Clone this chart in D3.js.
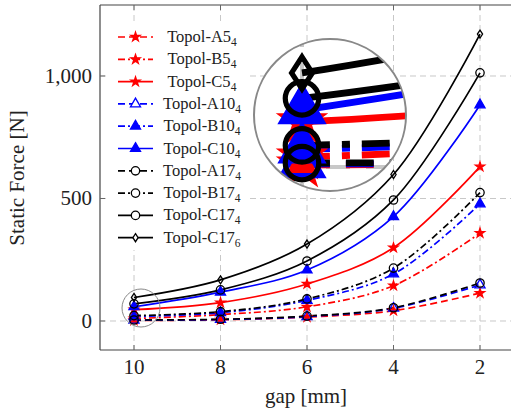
<!DOCTYPE html>
<html>
<head>
<meta charset="utf-8">
<script src="https://cdn.jsdelivr.net/npm/d3@7"></script>
<style>
  body { margin: 0; background: #fff; }
  svg { font-family: "Liberation Serif", "DejaVu Serif", serif; }
</style>
</head>
<body>
<script>
// gap values on the x axis
var gaps = [10, 8, 6, 4, 2];
var xTicks = [10, 8, 6, 4, 2];
var yTicks = [0, 500, 1000];

// static force per series [N]
var topolA5 = [2, 5, 16, 42, 114];
var topolB5 = [10, 26, 58, 144, 359];
var topolC5 = [46, 75, 151, 299, 630];
var topolA10 = [3, 6, 18, 52, 147];
var topolB10 = [18, 34, 84, 192, 478];
var topolC10 = [58, 118, 208, 426, 882];
var topolA17 = [4, 7, 20, 54, 155];
var topolB17 = [22, 38, 90, 216, 524];
var topolC17 = [70, 127, 245, 494, 1013];
var topolC17b = [96, 168, 314, 598, 1171];

var series = [
  {name: "Topol-A5", sub: "4", values: topolA5, color: "#ff0000", dash: "7,4", mark: "star", fill: true},
  {name: "Topol-B5", sub: "4", values: topolB5, color: "#ff0000", dash: "7,3,2,3", mark: "star", fill: true},
  {name: "Topol-C5", sub: "4", values: topolC5, color: "#ff0000", dash: null, mark: "star", fill: true},
  {name: "Topol-A10", sub: "4", values: topolA10, color: "#0000ff", dash: "7,4", mark: "triangle", fill: false},
  {name: "Topol-B10", sub: "4", values: topolB10, color: "#0000ff", dash: "7,3,2,3", mark: "triangle", fill: true},
  {name: "Topol-C10", sub: "4", values: topolC10, color: "#0000ff", dash: null, mark: "triangle", fill: true},
  {name: "Topol-A17", sub: "4", values: topolA17, color: "#000000", dash: "7,4", mark: "circle", fill: false},
  {name: "Topol-B17", sub: "4", values: topolB17, color: "#000000", dash: "7,3,2,3", mark: "circle", fill: false},
  {name: "Topol-C17", sub: "4", values: topolC17, color: "#000000", dash: null, mark: "circle", fill: false},
  {name: "Topol-C17", sub: "6", values: topolC17b, color: "#000000", dash: null, mark: "diamond", fill: false}
];

var width = 511, height = 412;
var margin = {top: 5, left: 100, bottom: 350};

var x = d3.scaleLinear().domain([10.8, 1.2]).range([99.4, 514.6]);
var y = d3.scaleLinear().domain([-118.4, 1289.8]).range([margin.bottom, margin.top]);

var svg = d3.select("body").append("svg")
    .attr("width", width)
    .attr("height", height);

var defs = svg.append("defs");

// everything that the magnifier copies
var plot = defs.append("g").attr("id", "plotContent");

// grid
plot.selectAll(".gx").data(xTicks).enter().append("line")
    .attr("x1", function(d) { return x(d); })
    .attr("x2", function(d) { return x(d); })
    .attr("y1", margin.top).attr("y2", margin.bottom)
    .attr("stroke", "#c8c8c8").attr("stroke-dasharray", "6,4");
plot.selectAll(".gy").data(yTicks).enter().append("line")
    .attr("y1", function(d) { return y(d); })
    .attr("y2", function(d) { return y(d); })
    .attr("x1", margin.left).attr("x2", width)
    .attr("stroke", "#c8c8c8").attr("stroke-dasharray", "6,4");

var line = d3.line()
    .x(function(d, i) { return x(gaps[i]); })
    .y(function(d) { return y(d); })
    .curve(d3.curveCatmullRom);

function symbolFor(s) {
  if (s.mark == "star") return d3.symbol().type(d3.symbolStar).size(26)();
  if (s.mark == "triangle") return d3.symbol().type(d3.symbolTriangle).size(44)();
  if (s.mark == "circle") return d3.symbol().type(d3.symbolCircle).size(55)();
  return "M0,-4L2.6,0L0,4L-2.6,0Z";
}

series.forEach(function(s) {
  plot.append("path")
      .attr("d", line(s.values))
      .attr("fill", "none")
      .attr("stroke", s.color)
      .attr("stroke-width", 1.7)
      .attr("stroke-dasharray", s.dash);
});

series.forEach(function(s) {
  plot.selectAll(null).data(s.values).enter().append("path")
      .attr("d", symbolFor(s))
      .attr("transform", function(d, i) { return "translate(" + x(gaps[i]) + "," + y(d) + ")"; })
      .attr("fill", s.fill ? s.color : "none")
      .attr("stroke", s.color)
      .attr("stroke-width", 1.3);
});

svg.append("use").attr("href", "#plotContent");

// frame
svg.append("line").attr("x1", margin.left).attr("x2", margin.left)
    .attr("y1", margin.top).attr("y2", margin.bottom)
    .attr("stroke", "#444").attr("stroke-width", 1.2);
svg.append("line").attr("x1", margin.left).attr("x2", width)
    .attr("y1", margin.bottom).attr("y2", margin.bottom)
    .attr("stroke", "#444").attr("stroke-width", 1.2);
svg.append("line").attr("x1", margin.left).attr("x2", width)
    .attr("y1", margin.top).attr("y2", margin.top)
    .attr("stroke", "#444").attr("stroke-width", 1.2);

// ticks
xTicks.forEach(function(d) {
  svg.append("line").attr("x1", x(d)).attr("x2", x(d))
      .attr("y1", margin.bottom).attr("y2", margin.bottom - 5).attr("stroke", "#666");
  svg.append("line").attr("x1", x(d)).attr("x2", x(d))
      .attr("y1", margin.top).attr("y2", margin.top + 5).attr("stroke", "#666");
  svg.append("text").attr("x", x(d)).attr("y", margin.bottom + 24)
      .attr("text-anchor", "middle").attr("font-size", 21).attr("fill", "#222")
      .text(d);
});
yTicks.forEach(function(d) {
  svg.append("line").attr("x1", margin.left).attr("x2", margin.left + 5)
      .attr("y1", y(d)).attr("y2", y(d)).attr("stroke", "#666");
  svg.append("text").attr("x", margin.left - 8).attr("y", y(d) + 7)
      .attr("text-anchor", "end").attr("font-size", 21).attr("fill", "#222")
      .text(d3.format(",")(d));
});

svg.append("text").attr("x", 306).attr("y", 403)
    .attr("text-anchor", "middle").attr("font-size", 21).attr("fill", "#222")
    .text("gap [mm]");
svg.append("text")
    .attr("transform", "translate(24,178) rotate(-90)")
    .attr("text-anchor", "middle").attr("font-size", 21).attr("fill", "#222")
    .text("Static Force [N]");

// legend
var legend = svg.append("g");
legend.append("rect").attr("x", 108).attr("y", 24).attr("width", 142).attr("height", 226)
    .attr("fill", "#fff");
series.forEach(function(s, i) {
  var ly = 37 + i * 22.3;
  legend.append("line").attr("x1", 118).attr("x2", 153).attr("y1", ly).attr("y2", ly)
      .attr("stroke", s.color).attr("stroke-width", 1.7).attr("stroke-dasharray", s.dash);
  legend.append("path").attr("d", symbolFor(s))
      .attr("transform", "translate(135.5," + ly + ")")
      .attr("fill", s.fill ? s.color : "#fff")
      .attr("stroke", s.color).attr("stroke-width", 1.3);
  var t = legend.append("text").attr("x", 202).attr("y", ly + 5)
      .attr("text-anchor", "middle").attr("font-size", 16.5).attr("fill", "#222");
  t.append("tspan").text(s.name);
  t.append("tspan").attr("font-size", 11.5).attr("dy", 4).text(s.sub);
});

// spy: small circle and magnified view
var sx = 141, sy = 308, sr = 19, mag = 4;
var bx = 330, by = 115, br = sr * mag;

svg.append("circle").attr("cx", sx).attr("cy", sy).attr("r", sr)
    .attr("fill", "none").attr("stroke", "#888").attr("stroke-width", 1);

defs.append("clipPath").attr("id", "magClip")
  .append("circle").attr("cx", bx).attr("cy", by).attr("r", br);

var zoomed = svg.append("g").attr("clip-path", "url(#magClip)");
zoomed.append("circle").attr("cx", bx).attr("cy", by).attr("r", br).attr("fill", "#fff");
zoomed.append("use").attr("href", "#plotContent")
    .attr("transform", "translate(" + bx + "," + by + ") scale(" + mag + ") translate(" + (-sx) + "," + (-sy) + ")");

svg.append("circle").attr("cx", bx).attr("cy", by).attr("r", br)
    .attr("fill", "none").attr("stroke", "#888").attr("stroke-width", 2);
</script>
</body>
</html>
